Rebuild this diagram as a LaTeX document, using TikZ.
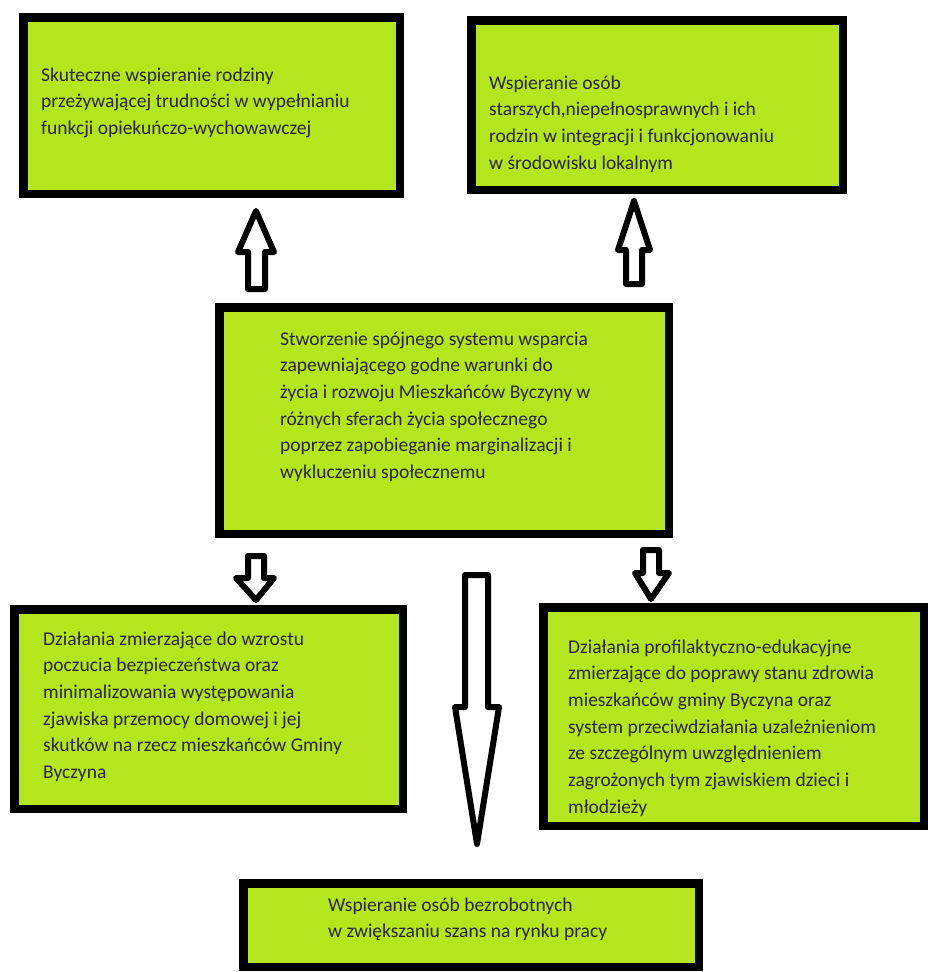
\documentclass[tikz,border=0pt]{standalone}
\usepackage{fontspec}
\setmainfont{Carlito}
\definecolor{limefill}{RGB}{181,230,29}
\begin{document}
\begin{tikzpicture}[x=1pt,y=-1pt,
  box/.style={draw=black, fill=limefill, line width=8.5pt, inner sep=0pt, rectangle},
  blockarrow/.style={draw=black, fill=white, line width=6pt, line join=round},
  txt/.style={anchor=base west, inner sep=0pt, text=black!85,
    font=\fontsize{19.5}{26.7}\selectfont}]
\useasboundingbox[fill=white] (0,0) rectangle (934,972);

% boxes
\node[box, minimum width=376.5pt, minimum height=176.5pt] (b1) at (211.5,105.5) {};
\node[box, minimum width=371.5pt, minimum height=169.5pt] (b2) at (657,105) {};
\node[box, minimum width=449.5pt, minimum height=226.5pt] (b0) at (444,420.5) {};
\node[box, minimum width=388.5pt, minimum height=199.5pt] (b3) at (208.5,709) {};
\node[box, minimum width=380.5pt, minimum height=218.5pt] (b4) at (733.5,716.5) {};
\node[box, minimum width=455.5pt, minimum height=83.5pt] (b5) at (471,925) {};

% texts
\node[txt] (t1) at (41,81) {\parbox[t]{360pt}{\raggedright
Skuteczne wspieranie rodziny\\
przeżywającej trudności w wypełnianiu\\
funkcji opiekuńczo-wychowawczej}};
\node[txt] (t2) at (489,89) {\parbox[t]{350pt}{\raggedright
Wspieranie osób\\
starszych,niepełnosprawnych i ich\\
rodzin w integracji i funkcjonowaniu\\
w środowisku lokalnym}};
\node[txt] (t0) at (280,345) {\parbox[t]{380pt}{\raggedright
Stworzenie spójnego systemu wsparcia\\
zapewniającego godne warunki do\\
życia i rozwoju Mieszkańców Byczyny w\\
różnych sferach życia społecznego\\
poprzez zapobieganie marginalizacji i\\
wykluczeniu społecznemu}};
\node[txt] (t3) at (43,645) {\parbox[t]{360pt}{\raggedright
Działania zmierzające do wzrostu\\
poczucia bezpieczeństwa oraz\\
minimalizowania występowania\\
zjawiska przemocy domowej i jej\\
skutków na rzecz mieszkańców Gminy\\
Byczyna}};
\node[txt] (t4) at (568,653) {\parbox[t]{360pt}{\raggedright
Działania profilaktyczno-edukacyjne\\
zmierzające do poprawy stanu zdrowia\\
mieszkańców gminy Byczyna oraz\\
system przeciwdziałania uzależnieniom\\
ze szczególnym uwzględnieniem\\
zagrożonych tym zjawiskiem dzieci i\\
młodzieży}};
\node[txt] (t5) at (328,911) {\parbox[t]{360pt}{\raggedright
Wspieranie osób bezrobotnych\\
w zwiększaniu szans na rynku pracy}};

% block arrows
\draw[blockarrow] (256,211) -- (274,252) -- (265,252) -- (265,289) -- (248,289) -- (248,252) -- (238,252) -- cycle;
\draw[blockarrow] (634,201) -- (650,250) -- (642,250) -- (642,284) -- (626,284) -- (626,250) -- (618,250) -- cycle;
\draw[blockarrow] (256,600) -- (274,578) -- (264,578) -- (264,556) -- (248,556) -- (248,578) -- (236,578) -- cycle;
\draw[blockarrow] (651,599) -- (669,573) -- (659,573) -- (659,550) -- (643,550) -- (643,573) -- (635,573) -- cycle;
\draw[blockarrow] (477,844) -- (499,707) -- (488,707) -- (488,575) -- (465,575) -- (465,707) -- (455,707) -- cycle;
\end{tikzpicture}
\end{document}
